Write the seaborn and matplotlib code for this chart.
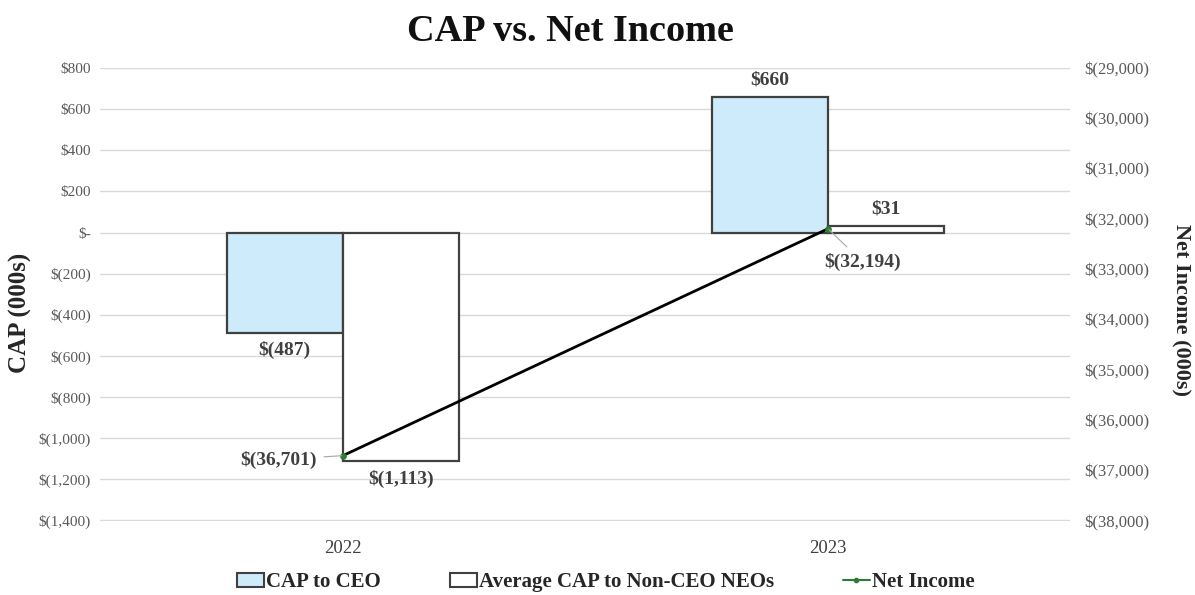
import numpy as np
import pandas as pd
import matplotlib
matplotlib.use("Agg")
import matplotlib.pyplot as plt
import seaborn as sns
from matplotlib.patches import Patch
from matplotlib.lines import Line2D
from matplotlib.ticker import FuncFormatter, MultipleLocator

# data (000s)
years = ["2022", "2023"]
cap_ceo = [-487, 660]
cap_neo = [-1113, 31]
net_income = [-36701, -32194]
series_names = ["CAP to CEO", "Average CAP to Non-CEO NEOs"]

df = pd.DataFrame({
    "Year": years * 2,
    "Series": [series_names[0]] * len(years) + [series_names[1]] * len(years),
    "CAP": cap_ceo + cap_neo,
})

sns.set_style("white")
plt.rcParams["font.family"] = ["Liberation Serif", "DejaVu Serif"]

grey_txt = "#595959"
dark_txt = "#404040"
blue = "#CDEBFA"


def money(v):
    if v == 0:
        return "$-"
    if v < 0:
        return f"$({abs(v):,.0f})"
    return f"${v:,.0f}"


fig = plt.figure(figsize=(11.95, 5.95), dpi=100)
ax = fig.add_axes([0.0841, 0.1244, 0.8117, 0.7613])

sns.barplot(data=df, x="Year", y="CAP", hue="Series", order=years,
            hue_order=series_names, palette=[blue, "white"],
            edgecolor="#404040", linewidth=1.6, width=0.48,
            saturation=1, ax=ax, legend=False)

ax.set_ylim(-1403, 800)
ax.set_xlim(-0.5, 1.5)
ax.yaxis.set_major_locator(MultipleLocator(200))
ax.yaxis.set_major_formatter(FuncFormatter(lambda v, p: money(v)))
ax.grid(axis="y", color="#D9D9D9", linewidth=1)
ax.set_axisbelow(True)
for s in ax.spines.values():
    s.set_visible(False)
ax.tick_params(axis="y", labelsize=11, labelcolor=grey_txt, length=0, pad=7)
ax.tick_params(axis="x", labelsize=13.5, labelcolor=dark_txt, length=0, pad=14)
ax.set_xlabel("")
ax.set_ylabel("CAP (000s)", fontsize=18, fontweight="bold", color="#262626")
ax.yaxis.set_label_coords(-0.071, 0.46)

for cont in ax.containers:
    ax.bar_label(cont, labels=[money(b.get_height()) for b in cont],
                 padding=6, fontsize=14, fontweight="bold", color=dark_txt)

ax2 = ax.twinx()
x_pos = np.arange(len(years))
sns.lineplot(x=x_pos, y=net_income, ax=ax2, color="black", linewidth=2,
             marker="o", markersize=4, markerfacecolor="#2E7D32",
             markeredgecolor="#2E7D32", legend=False)
ax2.set_ylim(-38000, -29000)
ax2.yaxis.set_major_locator(MultipleLocator(1000))
ax2.yaxis.set_major_formatter(FuncFormatter(lambda v, p: money(v)))
for s in ax2.spines.values():
    s.set_visible(False)
ax2.tick_params(axis="y", labelsize=12, labelcolor=grey_txt, length=0, pad=10)
ax2.set_ylabel("Net Income (000s)", fontsize=16, fontweight="bold", color="#262626",
               rotation=270, va="center")
ax2.yaxis.set_label_coords(1.113, 0.465)
ax2.set_xlim(-0.5, 1.5)

ni_offsets = [(-19, -3), (25, -24)]
ni_align = [("right", "center"), ("center", "center")]
for xp, v, off, al in zip(x_pos, net_income, ni_offsets, ni_align):
    ax2.annotate(money(v), xy=(xp, v), xytext=off, textcoords="offset points",
                 ha=al[0], va=al[1], fontsize=14, fontweight="bold", color=dark_txt,
                 arrowprops=dict(arrowstyle="-", color="#A6A6A6", lw=0.8,
                                 shrinkA=3, shrinkB=1))

fig.text(0.477, 0.947, "CAP vs. Net Income", fontsize=27.5, fontweight="bold",
         ha="center", va="center", color="#111111")

handles = [
    Patch(facecolor=blue, edgecolor="#404040", linewidth=1.5),
    Patch(facecolor="white", edgecolor="#404040", linewidth=1.5),
    Line2D([0], [0], color="#2E7D32", linewidth=1.5, marker="o", markersize=3),
]
leg = fig.legend(handles, series_names + ["Net Income"], loc="lower center",
                 bbox_to_anchor=(0.507, -0.027), ncol=3, frameon=False,
                 prop={"weight": "bold", "size": 15}, handlelength=1.3,
                 handleheight=0.7, handletextpad=0.1, columnspacing=3.3)
for t in leg.get_texts():
    t.set_color("#262626")

fig.savefig("out.png", dpi=100)
